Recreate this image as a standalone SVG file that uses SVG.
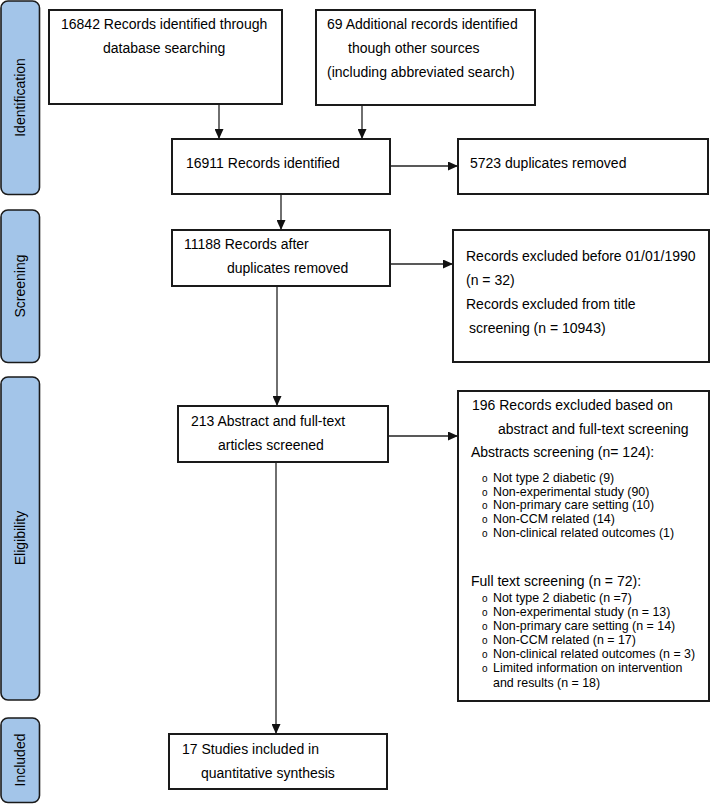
<svg xmlns="http://www.w3.org/2000/svg" width="710" height="804" viewBox="0 0 710 804">
<defs>
<style>
text{font-family:"Liberation Sans",Arial,sans-serif;fill:#000;}
.t{font-size:14px;}
.s{font-size:12.4px;}
.b{font-size:10px;}
.band{fill:#a3c5e9;stroke:#1a1a1a;stroke-width:1.6;}
.box{fill:#fff;stroke:#1a1a1a;stroke-width:2;}
.lbl{font-size:14px;text-anchor:middle;}
.c{fill:none;stroke:#222;stroke-width:1.3;}
</style>
<marker id="ah" markerUnits="userSpaceOnUse" markerWidth="11" markerHeight="9" refX="10" refY="4.5" orient="auto">
<path d="M0,0 L10,4.5 L0,9 z" fill="#111"/>
</marker>
</defs>
<rect width="710" height="804" fill="#fff"/>

<g id="band-identification">
<rect class="band" x="1" y="1" width="38.5" height="193.5" rx="7"/>
<text class="lbl" transform="translate(25,97.5) rotate(-90)">Identification</text>
</g>
<g id="band-screening">
<rect class="band" x="1" y="210" width="38.5" height="152.5" rx="7"/>
<text class="lbl" transform="translate(25,286) rotate(-90)">Screening</text>
</g>
<g id="band-eligibility">
<rect class="band" x="1" y="377" width="38.5" height="323" rx="7"/>
<text class="lbl" transform="translate(25,538) rotate(-90)">Eligibility</text>
</g>
<g id="band-included">
<rect class="band" x="1" y="718" width="38.5" height="84.5" rx="7"/>
<text class="lbl" transform="translate(25,760) rotate(-90)">Included</text>
</g>

<g id="connectors">
<line class="c" x1="219" y1="104" x2="219" y2="139" marker-end="url(#ah)"/>
<line class="c" x1="362" y1="105" x2="362" y2="139" marker-end="url(#ah)"/>
<line class="c" x1="390" y1="166" x2="458" y2="166" marker-end="url(#ah)"/>
<line class="c" x1="281" y1="194" x2="281" y2="230" marker-end="url(#ah)"/>
<line class="c" x1="390" y1="264" x2="453" y2="264" marker-end="url(#ah)"/>
<line class="c" x1="277" y1="286" x2="277" y2="406" marker-end="url(#ah)"/>
<line class="c" x1="388" y1="436" x2="458" y2="436" marker-end="url(#ah)"/>
<line class="c" x1="276" y1="462" x2="276" y2="734" marker-end="url(#ah)"/>
</g>

<g id="node-db">
<rect class="box" x="49" y="10" width="233" height="94"/>
<text class="t" x="61" y="29">16842 Records identified through</text>
<text class="t" x="103" y="53">database searching</text>
</g>
<g id="node-other">
<rect class="box" x="316" y="10" width="219" height="95"/>
<text class="t" x="327" y="29">69 Additional records identified</text>
<text class="t" x="348" y="53">though other sources</text>
<text class="t" x="327" y="77">(including abbreviated search)</text>
</g>
<g id="node-identified">
<rect class="box" x="172" y="139" width="218" height="55"/>
<text class="t" x="186" y="168">16911 Records identified</text>
</g>
<g id="node-duplicates">
<rect class="box" x="458" y="139" width="250" height="55"/>
<text class="t" x="470" y="168">5723 duplicates removed</text>
</g>
<g id="node-after-dup">
<rect class="box" x="172" y="230" width="218" height="56"/>
<text class="t" x="184" y="249">11188 Records after</text>
<text class="t" x="227" y="273">duplicates removed</text>
</g>
<g id="node-excluded-title">
<rect class="box" x="453" y="230" width="256" height="132"/>
<text class="t" x="466" y="261">Records excluded before 01/01/1990</text>
<text class="t" x="466" y="285">(n = 32)</text>
<text class="t" x="466" y="309">Records excluded from title</text>
<text class="t" x="469" y="333">screening (n = 10943)</text>
</g>
<g id="node-fulltext">
<rect class="box" x="178" y="406" width="210" height="56"/>
<text class="t" x="191" y="426">213 Abstract and full-text</text>
<text class="t" x="218" y="450">articles screened</text>
</g>
<g id="node-excluded-full">
<rect class="box" x="458" y="391" width="251" height="310"/>
<text class="t" x="472" y="410">196 Records excluded based on</text>
<text class="t" x="498" y="434">abstract and full-text screening</text>
<text class="t" x="471" y="457">Abstracts screening (n= 124):</text>
<text class="s" y="482"><tspan class="b" x="482">o</tspan><tspan x="493">Not type 2 diabetic (9)</tspan></text>
<text class="s" y="495.5"><tspan class="b" x="482">o</tspan><tspan x="493">Non-experimental study (90)</tspan></text>
<text class="s" y="509"><tspan class="b" x="482">o</tspan><tspan x="493">Non-primary care setting (10)</tspan></text>
<text class="s" y="522.5"><tspan class="b" x="482">o</tspan><tspan x="493">Non-CCM related (14)</tspan></text>
<text class="s" y="537"><tspan class="b" x="482">o</tspan><tspan x="493">Non-clinical related outcomes (1)</tspan></text>
<text class="t" x="471" y="586">Full text screening (n = 72):</text>
<text class="s" y="602"><tspan class="b" x="482">o</tspan><tspan x="493">Not type 2 diabetic (n =7)</tspan></text>
<text class="s" y="616"><tspan class="b" x="482">o</tspan><tspan x="493">Non-experimental study (n = 13)</tspan></text>
<text class="s" y="630"><tspan class="b" x="482">o</tspan><tspan x="493">Non-primary care setting (n = 14)</tspan></text>
<text class="s" y="644"><tspan class="b" x="482">o</tspan><tspan x="493">Non-CCM related (n = 17)</tspan></text>
<text class="s" y="658"><tspan class="b" x="482">o</tspan><tspan x="493">Non-clinical related outcomes (n = 3)</tspan></text>
<text class="s" y="672"><tspan class="b" x="482">o</tspan><tspan x="493">Limited information on intervention</tspan></text>
<text class="s" x="493" y="687">and results (n = 18)</text>
</g>
<g id="node-included">
<rect class="box" x="169" y="734" width="218" height="55"/>
<text class="t" x="182" y="754">17 Studies included in</text>
<text class="t" x="201" y="778">quantitative synthesis</text>
</g>
</svg>
